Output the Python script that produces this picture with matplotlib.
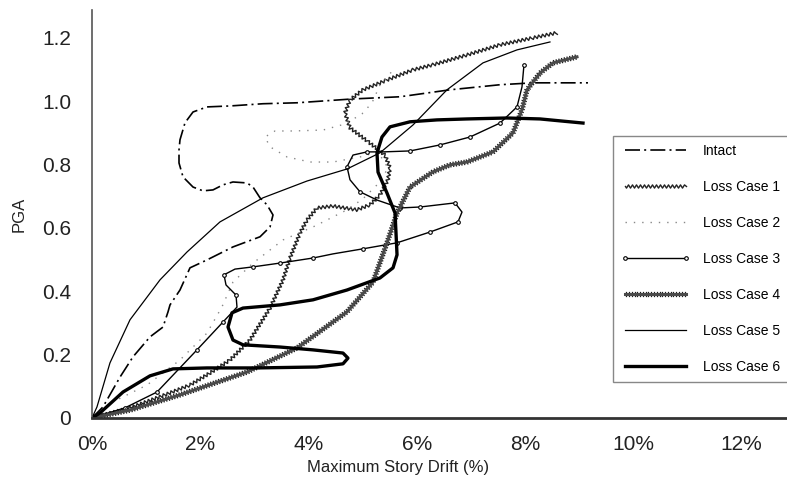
import matplotlib
matplotlib.use("Agg")
import matplotlib.pyplot as plt
import matplotlib.patheffects as pe

plt.rcParams["font.family"] = ["Liberation Sans", "DejaVu Sans"]

# ── Data (drift in %, PGA in g) ─────────────────────────────────────────────

intact_x = [0, 0.203, 0.517, 0.757, 1.071, 1.311, 1.404, 1.441, 1.625, 1.810,
            2.124, 2.604, 3.103, 3.288, 3.343, 3.232, 3.103, 2.974, 2.863, 2.604,
            2.420, 2.235, 2.050, 1.866, 1.681, 1.607, 1.607, 1.625, 1.718, 1.866,
            2.124, 2.549, 3.158, 3.786, 4.802, 5.689, 6.612, 7.536, 8.146, 9.161]
intact_y = [0, 0.035, 0.129, 0.193, 0.256, 0.287, 0.335, 0.357, 0.404, 0.474,
            0.499, 0.540, 0.572, 0.603, 0.641, 0.673, 0.695, 0.729, 0.742, 0.745,
            0.736, 0.720, 0.717, 0.729, 0.761, 0.805, 0.846, 0.878, 0.932, 0.966,
            0.982, 0.985, 0.992, 0.995, 1.007, 1.014, 1.036, 1.052, 1.058, 1.058]

lc1_x = [0, 0.702, 1.348, 1.810, 2.180, 2.549, 2.918, 3.288, 3.528, 3.657,
         3.842, 3.971, 4.156, 4.451, 4.895, 5.135, 5.319, 5.467, 5.504, 5.412,
         5.079, 4.765, 4.673, 4.765, 5.005, 5.449, 5.929, 6.298, 6.926, 7.536,
         8.146, 8.589]
lc1_y = [0, 0.032, 0.073, 0.104, 0.142, 0.183, 0.246, 0.347, 0.436, 0.505,
         0.584, 0.625, 0.663, 0.669, 0.657, 0.673, 0.704, 0.752, 0.789, 0.830,
         0.875, 0.916, 0.963, 1.004, 1.036, 1.067, 1.099, 1.115, 1.146, 1.178,
         1.200, 1.216]

lc2_x = [0, 0.388, 1.016, 1.625, 2.124, 2.401, 2.604, 2.974, 3.528, 4.119,
         4.710, 5.005, 5.319, 5.467, 5.283, 4.950, 4.451, 4.027, 3.602, 3.288,
         3.195, 3.380, 3.713, 4.267, 4.673, 4.987, 5.172, 5.319, 5.597]
lc2_y = [0, 0.051, 0.104, 0.183, 0.268, 0.351, 0.429, 0.489, 0.562, 0.606,
         0.657, 0.692, 0.745, 0.789, 0.840, 0.824, 0.808, 0.808, 0.824, 0.856,
         0.887, 0.906, 0.906, 0.909, 0.928, 0.960, 0.995, 1.051, 1.105]

lc3_x = [0, 0.610, 1.201, 1.939, 2.420, 2.678, 2.660, 2.475, 2.438, 2.641,
         2.974, 3.472, 4.082, 4.451, 5.005, 5.634, 6.243, 6.760, 6.834, 6.705,
         6.058, 5.689, 5.264, 4.950, 4.765, 4.710, 4.821, 5.079, 5.375, 5.874,
         6.428, 6.982, 7.536, 7.850, 7.942, 7.979]
lc3_y = [0, 0.032, 0.082, 0.215, 0.303, 0.350, 0.388, 0.420, 0.452, 0.470,
         0.477, 0.489, 0.505, 0.518, 0.534, 0.553, 0.587, 0.619, 0.650, 0.679,
         0.666, 0.663, 0.688, 0.714, 0.752, 0.793, 0.830, 0.840, 0.840, 0.843,
         0.862, 0.887, 0.931, 0.982, 1.045, 1.115]

lc4_x = [0, 0.702, 1.625, 2.863, 3.786, 4.710, 5.190, 5.449, 5.634, 5.874,
         6.298, 6.612, 6.926, 7.407, 7.776, 7.942, 8.035, 8.275, 8.515, 8.958]
lc4_y = [0, 0.025, 0.073, 0.145, 0.221, 0.335, 0.429, 0.553, 0.647, 0.729,
         0.777, 0.799, 0.808, 0.840, 0.900, 0.973, 1.036, 1.089, 1.121, 1.140]

lc5_x = [0, 0.092, 0.332, 0.702, 1.256, 1.755, 2.364, 3.158, 3.971, 4.710,
         5.319, 5.929, 6.557, 7.222, 7.850, 8.459]
lc5_y = [0, 0.035, 0.174, 0.310, 0.436, 0.524, 0.619, 0.695, 0.748, 0.786,
         0.837, 0.925, 1.036, 1.121, 1.162, 1.187]

lc6_x = [0, 0.148, 0.573, 1.071, 1.496, 2.124, 3.048, 4.156, 4.636, 4.728,
         4.636, 4.082, 3.472, 2.789, 2.604, 2.512, 2.586, 2.789, 3.472, 4.082,
         4.710, 5.319, 5.560, 5.634, 5.615, 5.597, 5.449, 5.283, 5.264, 5.356,
         5.504, 5.874, 6.372, 6.926, 7.665, 8.275, 9.069]
lc6_y = [0, 0.016, 0.082, 0.133, 0.155, 0.158, 0.158, 0.161, 0.171, 0.189,
         0.205, 0.215, 0.224, 0.231, 0.246, 0.287, 0.332, 0.347, 0.357, 0.373,
         0.404, 0.442, 0.474, 0.515, 0.584, 0.647, 0.710, 0.776, 0.837, 0.887,
         0.919, 0.935, 0.941, 0.944, 0.947, 0.944, 0.931]

x_ticks = [0, 2, 4, 6, 8, 10, 12]
x_labels = ["0%", "2%", "4%", "6%", "8%", "10%", "12%"]
y_ticks = [0, 0.2, 0.4, 0.6, 0.8, 1.0, 1.2]
y_labels = ["0", "0.2", "0.4", "0.6", "0.8", "1.0", "1.2"]

# ── Plot ────────────────────────────────────────────────────────────────────

fig = plt.figure(figsize=(7.87, 5.01), dpi=100)
ax = fig.add_axes([0.1169, 0.1657, 0.8831, 0.8144])

ax.plot(intact_x, intact_y, color="black", lw=1.2,
        ls=(0, (9, 2.5, 1.2, 2.5)), label="Intact")

l1, = ax.plot(lc1_x, lc1_y, color="#222222", lw=1.0, label="Loss Case 1")
l1.set_sketch_params(scale=1.6, length=4, randomness=1)

ax.plot(lc2_x, lc2_y, color="#888888", lw=1.0, ls=(0, (1, 5)),
        label="Loss Case 2")

ax.plot(lc3_x, lc3_y, color="black", lw=1.0, marker="o", ms=2.6,
        mfc="white", mec="black", mew=0.8, markevery=0.04,
        label="Loss Case 3")

ticked = [pe.TickedStroke(angle=90, spacing=2.0, length=0.75, linewidth=0.9,
                          foreground="#1a1a1a"),
          pe.TickedStroke(angle=-90, spacing=2.0, length=0.75, linewidth=0.9,
                          foreground="#1a1a1a"),
          pe.Normal()]
ax.plot(lc4_x, lc4_y, color="#4a4a4a", lw=2.2, path_effects=ticked,
        label="Loss Case 4")

ax.plot(lc5_x, lc5_y, color="black", lw=0.9, label="Loss Case 5")
ax.plot(lc6_x, lc6_y, color="black", lw=2.4, label="Loss Case 6")

ax.set_xlim(0, 12.837)
ax.set_ylim(0, 1.288)
ax.set_xticks(x_ticks, x_labels)
ax.set_yticks(y_ticks, y_labels)
ax.tick_params(length=0, labelsize=15, colors="#222222")
ax.tick_params(axis="x", pad=12)
ax.tick_params(axis="y", pad=15)

for side in ("top", "right"):
    ax.spines[side].set_visible(False)
ax.spines["left"].set_color("#555555")
ax.spines["left"].set_linewidth(1.2)
ax.spines["bottom"].set_color("#333333")
ax.spines["bottom"].set_linewidth(2.0)

ax.set_xlabel("Maximum Story Drift (%)", fontsize=12, color="#222222")
ax.set_ylabel("PGA", fontsize=12, color="#222222")
ax.xaxis.set_label_coords(0.44, -0.103)
ax.yaxis.set_label_coords(-0.094, 0.5)

leg = ax.legend(loc="upper left", bbox_to_anchor=(613 / 787, 1 - 136 / 501),
                bbox_transform=fig.transFigure, borderaxespad=0,
                fontsize=10, numpoints=2, handlelength=5.0,
                handletextpad=0.93, labelspacing=1.59, borderpad=0.55,
                fancybox=False, framealpha=1, edgecolor="#888888")
leg.get_frame().set_linewidth(1.0)

fig.savefig("out.png", dpi=100)
